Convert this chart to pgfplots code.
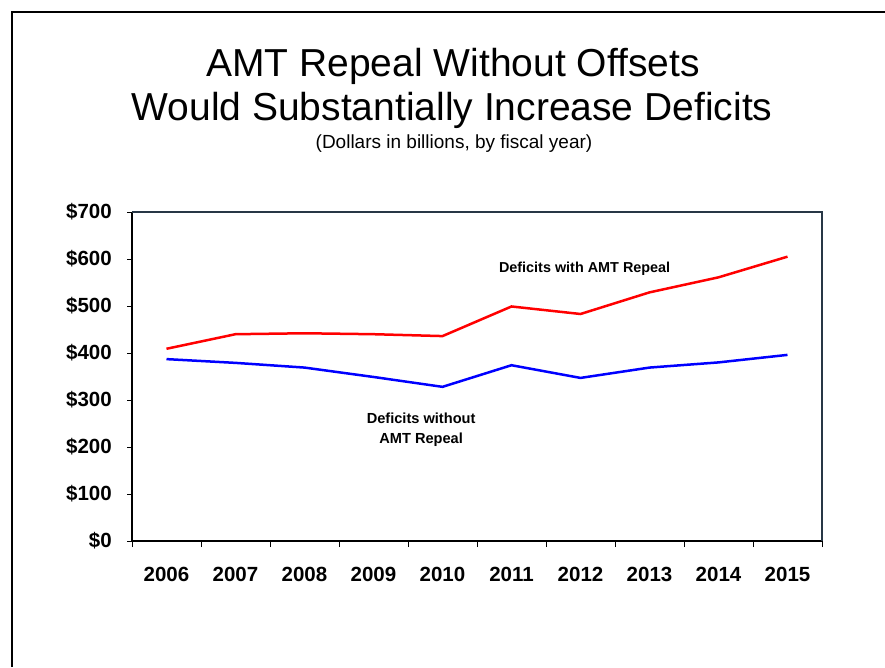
\documentclass[border=0pt]{standalone}
\usepackage{pgfplots}
\pgfplotsset{compat=1.18}
\usepackage{fontspec}
\setmainfont{Liberation Sans}
\definecolor{slate}{RGB}{40,55,70}
\begin{document}
\begin{tikzpicture}[x=1pt,y=1pt]
\path[use as bounding box] (0,0) rectangle (885,667);
\draw[line width=1.6pt, black] (12,0) -- (12,655) -- (885,655);
\node[anchor=base, font=\fontsize{39}{44}\selectfont, inner sep=0] at (453,590) {AMT Repeal Without Offsets};
\node[anchor=base, font=\fontsize{39}{44}\selectfont, inner sep=0] at (452,546) {Would Substantially Increase Deficits};
\node[anchor=base, font=\fontsize{19}{22}\selectfont, inner sep=0] at (454,518) {(Dollars in billions, by fiscal year)};
\begin{axis}[
  at={(132pt,126pt)}, anchor=south west,
  scale only axis, width=690pt, height=329pt,
  xmin=0.5, xmax=10.5, ymin=0, ymax=700,
  axis lines*=left,
  axis line style={black, line width=1.3pt},
  tick align=outside,
  tick style={black, line width=0.9pt},
  xtick={1,2,3,4,5,6,7,8,9,10},
  xticklabels={2006,2007,2008,2009,2010,2011,2012,2013,2014,2015},
  minor xtick={0.5,1.5,2.5,3.5,4.5,5.5,6.5,7.5,8.5,9.5,10.5},
  major x tick style={draw=none},
  minor tick length=6pt,
  ytick={0,100,200,300,400,500,600,700},
  yticklabels={\$0,\$100,\$200,\$300,\$400,\$500,\$600,\$700},
  major tick length=5pt,
  ticklabel style={font=\bfseries\fontsize{20.5}{24}\selectfont},
  xticklabel style={inner sep=0pt, anchor=north, yshift=-21pt},
  yticklabel style={inner sep=0pt, anchor=east, xshift=-15pt},
  clip=false,
]
\draw[slate, line width=1.3pt] (rel axis cs:0,1) -- (rel axis cs:1,1) -- (rel axis cs:1,0);
\addplot[red, line width=2.5pt, mark=none] coordinates {
(1,409) (2,440) (3,442) (4,440) (5,436) (6,499) (7,483) (8,529) (9,561) (10,605)};
\addplot[blue, line width=2.5pt, mark=none] coordinates {
(1,387) (2,379) (3,369) (4,349) (5,328) (6,374) (7,347) (8,369) (9,380) (10,396)};
\node[font=\bfseries\fontsize{14.4}{17}\selectfont, inner sep=0] at (axis cs:7.06,580) {Deficits with AMT Repeal};
\node[font=\bfseries\fontsize{14.6}{20}\selectfont, inner sep=0, align=center] at (axis cs:4.69,236) {Deficits without\\AMT Repeal};
\end{axis}
\end{tikzpicture}
\end{document}
